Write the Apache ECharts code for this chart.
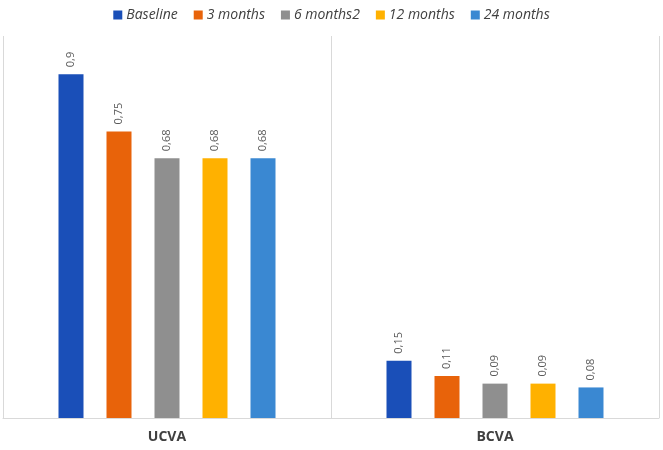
<!DOCTYPE html>
<html><head><meta charset="utf-8">
<script src="https://cdn.jsdelivr.net/npm/echarts@6/dist/echarts.min.js"></script>
<style>html,body{margin:0;padding:0;background:#fff}#c{width:663px;height:450px}</style>
</head><body><div id="c"></div>
<script>
const categories = ['UCVA', 'BCVA'];
const seriesNames = ['Baseline', '3 months', '6 months2', '12 months', '24 months'];
const baseline = [0.9, 0.15];
const months3 = [0.75, 0.11];
const months6 = [0.68, 0.09];
const months12 = [0.68, 0.09];
const months24 = [0.68, 0.08];
const colors = ['#1a4fb8', '#e8630a', '#8f8f8f', '#ffb100', '#3a88d2'];
const dataSets = [baseline, months3, months6, months12, months24];

const chart = echarts.init(document.getElementById('c'));
chart.setOption({
  animation: false,
  textStyle: { fontFamily: 'Open Sans' },
  legend: {
    top: 3, left: 'center', itemWidth: 9, itemHeight: 9, itemGap: 16,
    icon: 'rect',
    textStyle: { fontStyle: 'italic', fontWeight: 500, fontSize: 14, color: '#404040', fontFamily: 'Open Sans', padding: [0, 0, 0, -1] },
    data: seriesNames
  },
  grid: { left: 3, right: 4, top: 36, bottom: 32 },
  xAxis: {
    type: 'category', data: categories,
    axisLine: { lineStyle: { color: '#d9d9d9' } },
    axisTick: { show: false },
    splitLine: { show: true, lineStyle: { color: '#d9d9d9' } },
    axisLabel: { fontWeight: 'bold', fontSize: 14, color: '#404040', margin: 12 }
  },
  yAxis: { type: 'value', min: 0, max: 1, show: false, splitLine: { show: false } },
  series: seriesNames.map((n, i) => ({
    name: n, type: 'bar', data: dataSets[i],
    barWidth: 25, barGap: '92%',
    itemStyle: { color: colors[i] },
    label: {
      show: true, position: 'top', rotate: 90, align: 'left', verticalAlign: 'middle',
      distance: 7, fontSize: 11, color: '#595959',
      formatter: p => String(p.value).replace('.', ',')
    }
  }))
});
</script></body></html>
